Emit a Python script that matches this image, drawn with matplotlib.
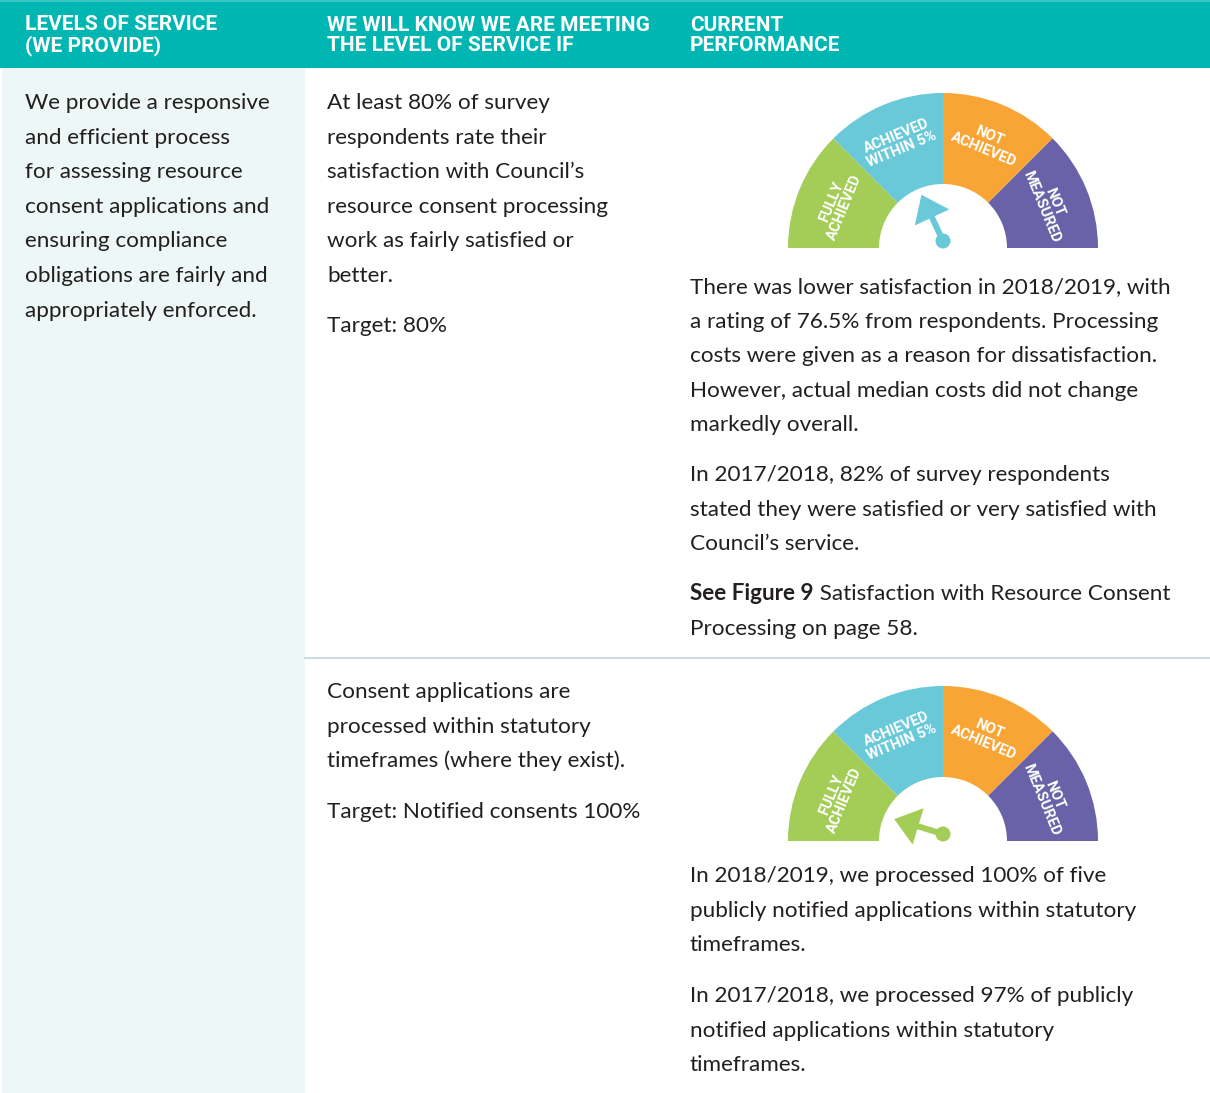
import numpy as np
import matplotlib
matplotlib.use("Agg")
import matplotlib.pyplot as plt
from matplotlib.patches import Wedge, Rectangle, Circle, FancyArrow

# ---------------- data ----------------
header_labels = ["LEVELS OF SERVICE\n(WE PROVIDE)",
                 "WE WILL KNOW WE ARE MEETING\nTHE LEVEL OF SERVICE IF",
                 "CURRENT\nPERFORMANCE"]
level_text = ["We provide a responsive", "and efficient process", "for assessing resource",
              "consent applications and", "ensuring compliance",
              "obligations are fairly and", "appropriately enforced."]
measure1 = ["At least 80% of survey", "respondents rate their", "satisfaction with Council\u2019s",
            "resource consent processing", "work as fairly satisfied or", "better."]
target1 = "Target: 80%"
measure2 = ["Consent applications are", "processed within statutory",
            "timeframes (where they exist)."]
target2 = "Target: Notified consents 100%"
perf1_a = ["There was lower satisfaction in 2018/2019, with",
           "a rating of 76.5% from respondents. Processing",
           "costs were given as a reason for dissatisfaction.",
           "However, actual median costs did not change", "markedly overall."]
perf1_b = ["In 2017/2018, 82% of survey respondents",
           "stated they were satisfied or very satisfied with", "Council\u2019s service."]
perf1_c_bold = "See Figure 9"
perf1_c = [" Satisfaction with Resource Consent", "Processing on page 58."]
perf2_a = ["In 2018/2019, we processed 100% of five",
           "publicly notified applications within statutory", "timeframes."]
perf2_b = ["In 2017/2018, we processed 97% of publicly",
           "notified applications within statutory", "timeframes."]

gauge_labels = ["FULLY\nACHIEVED", "ACHIEVED\nWITHIN 5%", "NOT\nACHIEVED", "NOT\nMEASURED"]
gauge_colors = ["#A3CD56", "#69C9D9", "#F8A535", "#6A62A9"]
needle_angles = [115, 163]          # degrees (180 = far left, 0 = far right)
needle_colors = ["#69C9D9", "#A3CD56"]

# ---------------- figure ----------------
W, H = 1210, 1093
fig = plt.figure(figsize=(W / 100, H / 100), dpi=100)
ax = fig.add_axes([0, 0, 1, 1])
ax.set_xlim(0, W)
ax.set_ylim(0, H)
ax.axis("off")

def Y(y):
    return H - y

TXT = "#231F20"
BODY = dict(family="Lato", fontsize=16.2, color=TXT, va="center", ha="left")

# header
ax.add_patch(Rectangle((0, Y(68)), W, 68, color="#00B6B3", lw=0))
ax.add_patch(Rectangle((0, Y(2)), W, 2, color="#3CC6C3", lw=0))
for x, lab in zip([25, 327, 690], header_labels):
    ax.text(x, Y(35.5), lab, color="white", fontsize=15, fontweight="bold",
            family="Roboto", va="center", ha="left", linespacing=1.08)

# left column
ax.add_patch(Rectangle((2, 0), 303, Y(68), color="#EDF7F6", lw=0))
# separator
ax.plot([305, W], [Y(658), Y(658)], color="#C6D8DF", lw=1.3)

def lines(x, y0, items, step=34.6, **kw):
    style = dict(BODY)
    style.update(kw)
    for i, t in enumerate(items):
        ax.text(x, Y(y0 + 2 + i * step), t, **style)

lines(25, 101, level_text)
lines(327, 101, measure1)
lines(327, 324, [target1])
lines(327, 690, measure2)
lines(327, 810, [target2])
lines(690, 285, perf1_a)
lines(690, 473, perf1_b)
lines(690, 874, perf2_a)
lines(690, 994, perf2_b)

tb = ax.text(690, Y(594), perf1_c_bold, fontweight="bold", **BODY)
fig.canvas.draw()
bb = tb.get_window_extent(renderer=fig.canvas.get_renderer())
ax.text(690 + bb.width, Y(594), perf1_c[0], **BODY)
ax.text(690, Y(629), perf1_c[1], **BODY)

# gauges
def gauge(cx, cy_img, angle, ncolor):
    cy = Y(cy_img)
    R, r = 155, 64
    n = len(gauge_labels)
    span = 180 / n
    for i, (lab, col) in enumerate(zip(gauge_labels, gauge_colors)):
        t2 = 180 - i * span
        t1 = t2 - span
        ax.add_patch(Wedge((cx, cy), R, t1, t2, width=R - r, color=col, lw=0))
        mid = np.deg2rad((t1 + t2) / 2)
        rr = 114
        rot = np.rad2deg(mid) - 90
        ax.text(cx + rr * np.cos(mid), cy + rr * np.sin(mid), lab, rotation=rot,
                rotation_mode="anchor", ha="center", va="center", color="white",
                fontsize=10.5, fontweight="bold", family="Roboto", linespacing=1.0,
                multialignment="center")
    # needle
    px, py = cx, cy + 7
    a = np.deg2rad(angle)
    L = 51
    ax.add_patch(FancyArrow(px, py, L * np.cos(a), L * np.sin(a), width=6,
                            head_width=38, head_length=25, length_includes_head=True,
                            color=ncolor, lw=0))
    ax.add_patch(Circle((px, py), 7.5, color=ncolor, lw=0))

gauge(943, 248, needle_angles[0], needle_colors[0])
gauge(943, 841, needle_angles[1], needle_colors[1])

fig.savefig("out.png", dpi=100)
